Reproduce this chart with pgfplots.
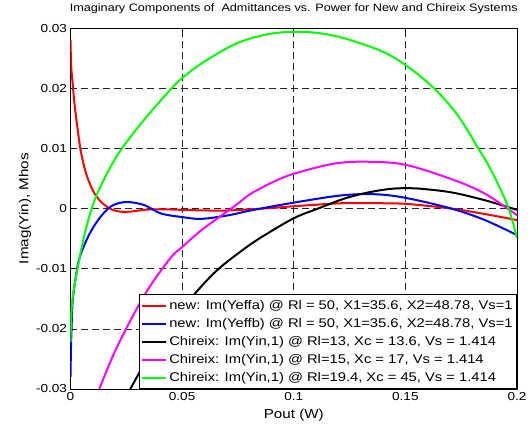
\documentclass[border=0pt]{standalone}
\usepackage{fontspec}
\setmainfont{Liberation Sans}[FakeStretch=1.17]
\usepackage{pgfplots}
\pgfplotsset{compat=1.18}

\definecolor{mgreen}{RGB}{0,255,0}
\definecolor{mmagenta}{RGB}{255,0,255}
\definecolor{mblue}{RGB}{0,0,255}
\definecolor{mred}{RGB}{255,0,0}

\begin{document}
\begin{tikzpicture}
\begin{axis}[
    name=ax,
    scale only axis,
    width=446.5bp, height=360.7bp,
    xmin=0, xmax=0.2, ymin=-0.03, ymax=0.03,
    scaled ticks=false,
    xtick={0,0.05,0.1,0.15,0.2},
    xticklabels={0,0.05,0.1,0.15,0.2},
    ytick={-0.03,-0.02,-0.01,0,0.01,0.02,0.03},
    yticklabels={-0.03,-0.02,-0.01,0,0.01,0.02,0.03},
    tick align=inside,
    major tick length=4bp,
    every tick/.style={black, line width=0.6bp},
    axis line style={line width=0.8bp},
    grid=major,
    major grid style={black!85, line width=0.6bp, dash pattern=on 7bp off 4bp},
    tick label style={font=\fontsize{11.6bp}{13bp}\selectfont},
    title={Imaginary Components of\ \ Admittances vs. Power for New and Chireix Systems},
    title style={font=\fontsize{10.8bp}{12bp}\selectfont, at={(0.5,1)}, anchor=base, yshift=11.3bp},
    xlabel={Pout (W)},
    xlabel style={font=\fontsize{13bp}{15bp}\selectfont, at={(0.5,0)}, anchor=base, yshift=-30bp},
    ylabel={Imag(Yin), Mhos},
    ylabel style={font=\fontsize{13bp}{15bp}\selectfont, at={(axis description cs:-0.0945,0.5)}, anchor=base},
    legend style={at={(1,0)}, anchor=south east, draw=black, line width=0.8bp, fill=white,
        font=\fontsize{12.6bp}{15bp}\selectfont, inner xsep=2bp, inner ysep=2bp, row sep=0pt,
        nodes={inner xsep=2bp, inner ysep=2bp, text height=10.5bp, text depth=3.5bp}},
    legend cell align=left,
    legend image code/.code={\draw[#1, line width=2bp] (0bp,0bp) -- (24bp,0bp);},
    every axis plot/.append style={line width=2bp, smooth, tension=0.55},
]
\addplot[mred] coordinates {
 (0,0.028) (0.0003,0.0238) (0.001,0.0207) (0.0018,0.0174) (0.0033,0.0129)
 (0.0048,0.0092) (0.0071,0.0057) (0.0102,0.0029) (0.0132,0.0013) (0.0177,0.0000)
 (0.0223,-0.0005) (0.0268,-0.0005) (0.033,-0.0002) (0.040,-0.0001) (0.050,-0.0002)
 (0.060,-0.0003) (0.0708,-0.0003) (0.0808,-0.0001) (0.090,0.0001) (0.100,0.0004)
 (0.1213,0.0009) (0.1332,0.0009) (0.150,0.0008) (0.1707,0.0000) (0.1856,-0.0009)
 (0.200,-0.0019)
};
\addlegendentry{new: Im(Yeffa) @ Rl = 50, X1=35.6, X2=48.78, Vs=1}
\addplot[mblue] coordinates {
 (0,-0.028) (0.0002,-0.0235) (0.00045,-0.0203) (0.001,-0.0153) (0.0026,-0.0108)
 (0.0041,-0.0081) (0.0071,-0.0053) (0.0102,-0.0031) (0.0147,-0.0008) (0.0192,0.0006)
 (0.0253,0.0011) (0.033,0.0006) (0.0405,-0.0008) (0.050,-0.0014) (0.0586,-0.0017)
 (0.0708,-0.0011) (0.0808,-0.0003) (0.100,0.0010) (0.1213,0.0022) (0.1362,0.0024)
 (0.150,0.0018) (0.1707,0.0000) (0.1856,-0.0019) (0.200,-0.0044)
};
\addlegendentry{new: Im(Yeffb) @ Rl = 50, X1=35.6, X2=48.78, Vs=1}
\addplot[black] coordinates {
 (0.0268,-0.0300) (0.0344,-0.0250) (0.045,-0.0190) (0.0558,-0.0141) (0.0655,-0.0103)
 (0.0763,-0.0071) (0.0853,-0.0048) (0.100,-0.0016) (0.1108,0.0000) (0.1213,0.0015)
 (0.1287,0.0023) (0.1362,0.0029) (0.1437,0.0033) (0.150,0.0034) (0.1572,0.0033)
 (0.1707,0.0027) (0.1856,0.0014) (0.200,-0.0002)
};
\addlegendentry{Chireix: Im(Yin,1) @ Rl=13, Xc = 13.6, Vs = 1.414}
\addplot[mmagenta] coordinates {
 (0.0129,-0.0300) (0.019,-0.0245) (0.0253,-0.0197) (0.0344,-0.0136) (0.045,-0.0081)
 (0.050,-0.0064) (0.0586,-0.0036) (0.0708,-0.0003) (0.0759,0.0011) (0.0804,0.0024)
 (0.090,0.0043) (0.100,0.0058) (0.1183,0.0075) (0.1332,0.0078) (0.150,0.0073)
 (0.1707,0.0049) (0.1856,0.0025) (0.200,-0.0011)
};
\addlegendentry{Chireix: Im(Yin,1) @ Rl=15, Xc = 17, Vs = 1.414}
\addplot[mgreen] coordinates {
 (0,-0.0222) (0.0003,-0.0185) (0.001,-0.0147) (0.0041,-0.0081) (0.0071,-0.0031)
 (0.0102,0.0008) (0.0132,0.0035) (0.0177,0.0068) (0.023,0.0100) (0.033,0.0148)
 (0.045,0.0199) (0.050,0.0217) (0.0593,0.0243) (0.0745,0.0275) (0.0897,0.0291)
 (0.1049,0.0294) (0.120,0.0286) (0.1387,0.0263) (0.150,0.0239) (0.1626,0.0201)
 (0.1733,0.0156) (0.1827,0.0100) (0.1884,0.0064) (0.1958,0.0005) (0.200,-0.0049)
};
\addlegendentry{Chireix: Im(Yin,1) @ Rl=19.4, Xc = 45, Vs = 1.414}
\end{axis}
\pgfresetboundingbox
\path ([shift={(-70.5bp,-37bp)}]ax.south west) rectangle ([shift={(12bp,28.3bp)}]ax.north east);
\end{tikzpicture}
\end{document}
